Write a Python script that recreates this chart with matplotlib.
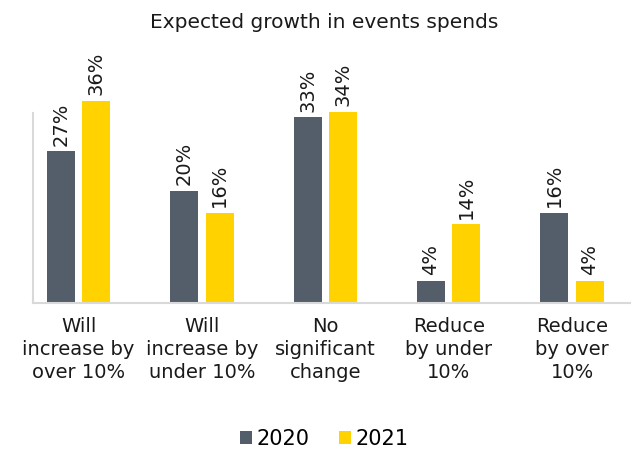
import matplotlib
matplotlib.use("Agg")
import matplotlib.pyplot as plt
import numpy as np

categories = ["Will\nincrease by\nover 10%", "Will\nincrease by\nunder 10%", "No\nsignificant\nchange",
              "Reduce\nby under\n10%", "Reduce\nby over\n10%"]
series_names = ["2020", "2021"]
v2020 = [27, 20, 33, 4, 16]
v2021 = [36, 16, 34, 14, 4]

plt.rcParams['font.family'] = ['DejaVu Sans']
C1 = "#545E6A"
C2 = "#FFD200"

fig = plt.figure(figsize=(6.35, 4.5), dpi=100)
ax = fig.add_axes([33/635, 147/450, 597/635, 225/450])
x = np.arange(len(categories))
w = 0.227
off = 0.144
b1 = ax.bar(x - off, v2020, w, color=C1, label=series_names[0])
b2 = ax.bar(x + off, v2021, w, color=C2, label=series_names[1])
for bars, vals in ((b1, v2020), (b2, v2021)):
    for b, v in zip(bars, vals):
        ax.annotate(f"{v}%", (b.get_x() + b.get_width()/2, v), xytext=(0, 4),
                    textcoords="offset points", rotation=90, ha="center", va="bottom",
                    fontsize=14, color="#1a1a1a")
ax.set_xlim(-0.37, 4.47)
ax.set_ylim(0, 40)
ax.set_xticks(x)
ax.set_xticklabels(categories, fontsize=14, linespacing=1.27, color="#1a1a1a")
ax.tick_params(axis="x", length=0, pad=10)
ax.set_yticks([])
for s in ("top", "right"):
    ax.spines[s].set_visible(False)
ax.spines["left"].set_color("#D9D9D9")
ax.spines["bottom"].set_color("#D9D9D9")
ax.spines["left"].set_linewidth(1.5)
ax.spines["bottom"].set_linewidth(1.5)
ax.spines["left"].set_bounds(0, 33.7)
fig.text(324/635, 1 - 23/450, "Expected growth in events spends", ha="center", va="center",
         fontsize=14.5, color="#1a1a1a")
fig.legend(handles=[b1, b2], loc="center", bbox_to_anchor=(324/635, 1 - 439/450), ncol=2,
           frameon=False, fontsize=15, handlelength=0.6, handleheight=0.6, handletextpad=0.2,
           columnspacing=1.4)
fig.savefig("out.png", dpi=100)
